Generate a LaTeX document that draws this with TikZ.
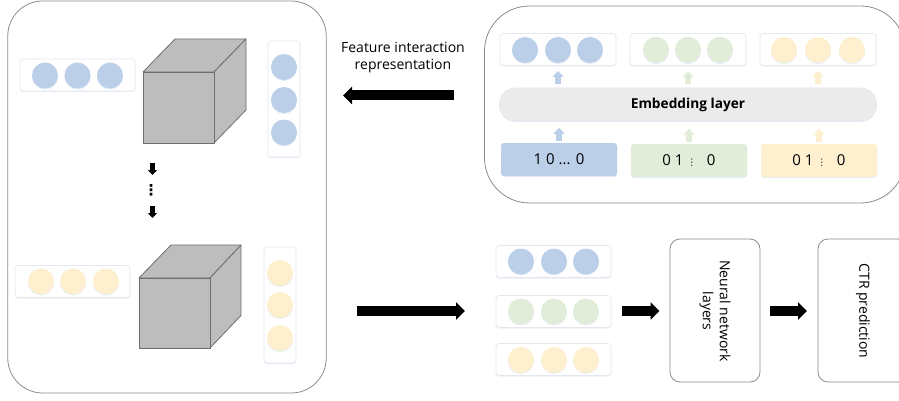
\documentclass[tikz,border=0pt]{standalone}
\usepackage{fontspec}
\setmainfont{Open Sans}
\newfontfamily\symfont{DejaVu Sans}
\usetikzlibrary{arrows.meta,shadows}
\definecolor{cblue}{HTML}{BBCFE9}
\definecolor{cgreen}{HTML}{E1EDD9}
\definecolor{cyellow}{HTML}{FEF0CE}
\definecolor{cubegray}{HTML}{BDBDBD}
\definecolor{cubeline}{HTML}{6E6E6E}
\definecolor{panelline}{HTML}{8C8C8C}
\definecolor{softline}{HTML}{E4E8EE}
\tikzset{
  x=1pt,y=-1pt,
  softshadow/.style={drop shadow={shadow xshift=0pt,shadow yshift=-1pt,opacity=.35,fill=cblue}},
  panel/.style={draw=panelline,line width=.8pt,fill=white,rounded corners=#1,inner sep=0pt},
  strip/.style={draw=softline,line width=.7pt,fill=white,rounded corners=3pt,softshadow,inner sep=0pt},
  hstrip/.style={strip,minimum width=115pt,minimum height=32pt},
  vstrip/.style={strip,minimum width=32pt,minimum height=116pt},
  ball/.style={circle,fill=#1,minimum size=26pt,inner sep=0pt,softshadow},
  code/.style={fill=#1,rounded corners=3pt,minimum width=116pt,minimum height=33pt,inner sep=0pt,softshadow,font=\fontsize{15}{17}\selectfont},
  bigarrow/.style={line width=10pt,-{Triangle[length=9pt,width=17pt]},black},
  smallblack/.style={line width=5pt,-{Triangle[length=5pt,width=9pt]},black},
  uparrow/.style={line width=6pt,-{Triangle[length=6pt,width=11pt]},#1},
  cubeface/.style={fill=cubegray,draw=cubeline,line width=.8pt,line join=round},
  label/.style={font=\fontsize{14}{17}\selectfont,align=center,inner sep=0pt},
  anchorpt/.style={inner sep=0pt,minimum size=0pt}
}
\begin{document}
\begin{tikzpicture}
\useasboundingbox (0,0) rectangle (899,401);
\clip (0,0) rectangle (899,401);
% panels
\node[panel=35pt,minimum width=318.5pt,minimum height=392pt] (leftpanel) at (167,197) {};
\node[panel=45pt,minimum width=421pt,minimum height=197pt] (rightpanel) at (695,104.5) {};

% left block, upper
\node[hstrip] (s1) at (77.5,75) {};
\foreach \x/\n in {45/a,77.5/b,110/c} \node[ball=cblue] (s1\n) at (\x,75.5) {};
\draw[cubeface] (143,72) -- (175,39) -- (246,39) -- (214,72) -- cycle;
\draw[cubeface] (214,72) -- (246,39) -- (246,110) -- (214,143) -- cycle;
\draw[cubeface] (143,72) rectangle (214,143);
\node[vstrip] (v1) at (284,99) {};
\foreach \y/\n in {67/a,100/b,132.5/c} \node[ball=cblue] (v1\n) at (284,\y) {};

\coordinate (d1a) at (152.5,163); \coordinate (d1b) at (152.5,175);
\draw[smallblack] (d1a) -- (d1b);
\node[inner sep=0pt,font=\symfont\bfseries\fontsize{15}{15}\selectfont] (vdots) at (151,190) {⋮};
\coordinate (d2a) at (152.5,206); \coordinate (d2b) at (152.5,218);
\draw[smallblack] (d2a) -- (d2b);

% left block, lower
\node[hstrip] (s2) at (72.5,281.5) {};
\foreach \x/\n in {41/a,73/b,106/c} \node[ball=cyellow] (s2\n) at (\x,281.5) {};
\draw[cubeface] (139,278) -- (171,245) -- (241,245) -- (210,278) -- cycle;
\draw[cubeface] (210,278) -- (241,245) -- (241,315.5) -- (210,348) -- cycle;
\draw[cubeface] (139,278) rectangle (210,348);
\node[vstrip] (v2) at (280,305) {};
\foreach \y/\n in {273/a,305/b,338/c} \node[ball=cyellow] (v2\n) at (280,\y) {};

% feature interaction
\node[label] (fir) at (403,58) {Feature interaction\\representation};
\coordinate (fa) at (454,95.5); \coordinate (fb) at (343,95.5);
\draw[bigarrow] (fa) -- (fb);

% embedding panel
\foreach \cx/\col/\n/\p/\q/\r in {558/cblue/A/525/558/590,688/cgreen/B/656/688/720,818/cyellow/C/784/818/852}{
  \node[hstrip,minimum width=116pt] (e\n) at (\cx,49.5) {};
  \node[ball=\col] (e\n a) at (\p,50) {};
  \node[ball=\col] (e\n b) at (\q,50) {};
  \node[ball=\col] (e\n c) at (\r,50) {};
}
\node[draw=softline,line width=.7pt,fill=black!8,rounded corners=16pt,minimum width=377pt,minimum height=33pt,inner sep=0pt,softshadow,font=\bfseries\fontsize{13.7}{15}\selectfont] (emb) at (688,104.5) {Embedding layer};
\node[code=cblue] (cA) at (559,159.5) {1 0 ... 0};
\node[code=cgreen] (cB) at (689,160.5) {};
\node[font=\fontsize{15}{17}\selectfont,inner sep=0pt] (tB) at (689,160.5) {0 1 {\symfont\fontsize{9}{9}\selectfont ⋮}\;\, 0};
\node[code=cyellow] (cC) at (819,160.5) {};
\node[font=\fontsize{15}{17}\selectfont,inner sep=0pt] (tC) at (819,160.5) {0 1 {\symfont\fontsize{9}{9}\selectfont ⋮}\;\, 0};
\foreach \n/\col in {A/cblue,B/cgreen,C/cyellow}{
  \draw[uparrow=\col] (c\n.north) ++(0,-2) -- ++(0,-13);
}
\foreach \x/\n/\col in {558/A/cblue,688/B/cgreen,818/C/cyellow}{
  \coordinate (up\n a) at (\x,84); \coordinate (up\n b) at (\x,71);
  \draw[uparrow=\col] (up\n a) -- (up\n b);
}

% lower right
\node[hstrip] (b1) at (553.5,261.5) {};
\node[hstrip] (b2) at (553.5,311.5) {};
\node[hstrip] (b3) at (553.5,359.5) {};
\foreach \x/\n in {521/a,554/b,586/c}{
  \node[ball=cblue] (b1\n) at (\x,261.5) {};
  \node[ball=cgreen] (b2\n) at (\x,311.5) {};
  \node[ball=cyellow] (b3\n) at (\x,360) {};
}
\node[panel=10pt,minimum width=90pt,minimum height=143pt] (nn) at (715,310.5) {};
\node[label,rotate=-90] (nntext) at (715,311) {Neural network\\layers};
\node[panel=10pt,minimum width=90pt,minimum height=143pt] (ctr) at (863,310.5) {};
\node[label,rotate=-90] (ctrtext) at (863,311) {CTR prediction};

\coordinate (m1) at (357,311); \coordinate (m2) at (465,311);
\draw[bigarrow] (m1) -- (m2);
\coordinate (n1) at (622,311); \coordinate (n1e) at (659.5,311);
\draw[bigarrow] (n1) -- (n1e);
\coordinate (n2) at (770,311); \coordinate (n2e) at (807,311);
\draw[bigarrow] (n2) -- (n2e);
\end{tikzpicture}
\end{document}
